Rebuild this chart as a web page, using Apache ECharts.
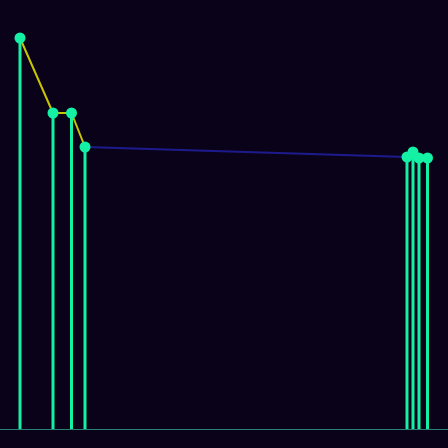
<!DOCTYPE html>
<html><head><meta charset="utf-8">
<script src="https://cdn.jsdelivr.net/npm/echarts@6/dist/echarts.min.js"></script>
<style>html,body{margin:0;padding:0;background:#0a0218;}#c{width:448px;height:448px;}</style>
</head><body><div id="c"></div>
<script>
// x positions (arbitrary day units) and values
var xValues = [0, 33, 51.5, 65, 387, 393, 399, 407.5];
var yValues = [391, 316, 316, 282, 272, 277, 271, 271];
// line colour segments along x
var segmentBreaks = [65, 387];
var segmentColors = ['#c8c400', '#1c1a8c', '#c8c400'];

var pts = xValues.map(function(x, i){ return [x, yValues[i]]; });
var chart = echarts.init(document.getElementById('c'));
chart.setOption({
  backgroundColor: '#0a0218',
  animation: false,
  grid: {left: 0, right: 0, top: 0, bottom: 19},
  xAxis: {type: 'value', min: -20, max: 428, show: true,
    axisLine: {show: true, onZero: false, lineStyle: {color: '#2a8276', width: 1}},
    axisTick: {show: false}, axisLabel: {show: false}, splitLine: {show: false}},
  yAxis: {type: 'value', min: 0, max: 429, show: false, splitLine: {show: false}},
  visualMap: {type: 'piecewise', show: false, dimension: 0, seriesIndex: 1,
    pieces: [
      {lt: segmentBreaks[0], color: segmentColors[0]},
      {gte: segmentBreaks[0], lt: segmentBreaks[1], color: segmentColors[1]},
      {gte: segmentBreaks[1], color: segmentColors[2]}
    ]},
  series: [
    {type: 'bar', data: pts, barWidth: 3, itemStyle: {color: '#14f0a4'}, z: 2},
    {type: 'line', data: pts, showSymbol: false, lineStyle: {width: 2}, z: 3},
    {type: 'scatter', data: pts, symbol: 'circle', symbolSize: 11, itemStyle: {color: '#14f0a4', opacity: 1}, z: 4}
  ]
});
</script></body></html>
